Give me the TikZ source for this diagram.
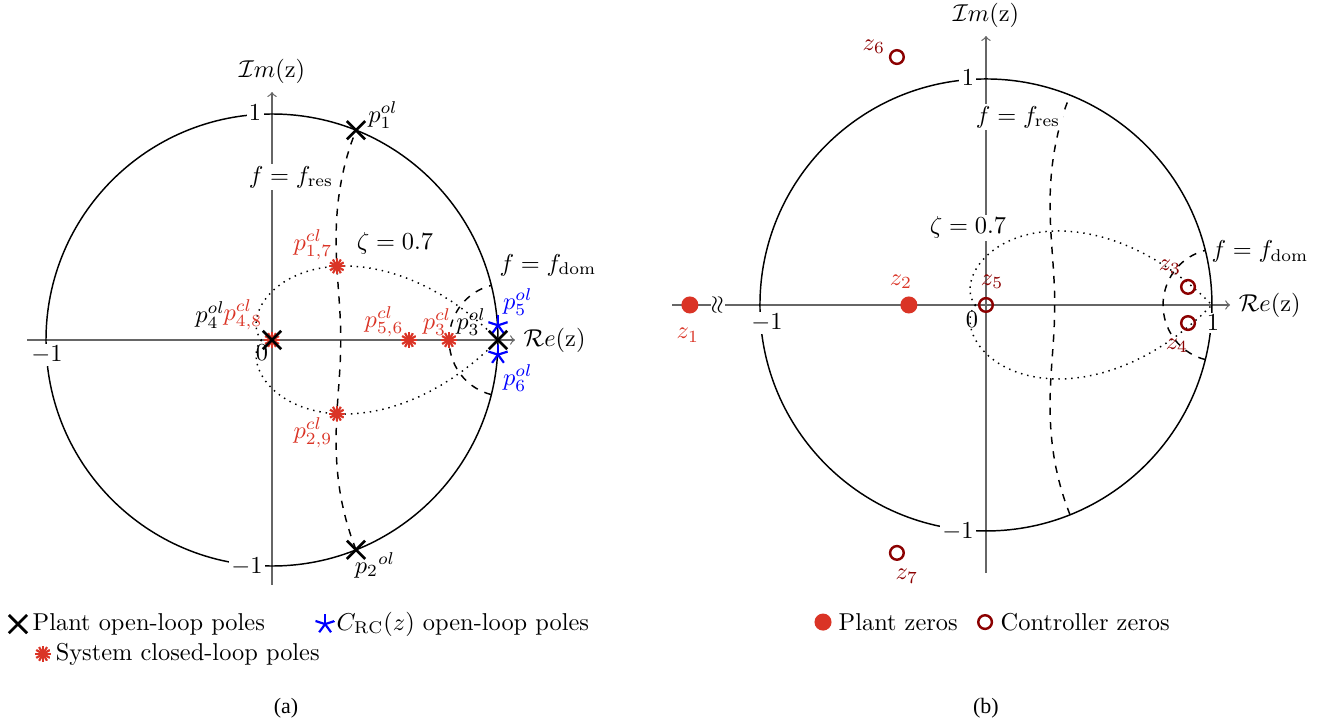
\documentclass[tikz,border=0pt]{standalone}
\usepackage{fontspec}
\newfontfamily\capfont{Liberation Serif}
\usetikzlibrary{shapes.misc}
\definecolor{mred}{RGB}{218,52,38}
\definecolor{mdarkred}{RGB}{139,0,0}

\begin{document}
\begin{tikzpicture}[x=3.257cm, y=3.257cm, line width=0.6pt,
  axis/.style={black!60, line width=0.5pt},
  olpole/.style={cross out, draw=black, line width=1.1pt, inner sep=0pt, minimum size=6.4pt},
  clpole/.style={circle, inner sep=0pt, minimum size=6.6pt, path picture={
      \foreach \a in {0,30,...,150}
        \draw[mred, line width=0.9pt] ([shift={(\a:3.3pt)}]path picture bounding box.center)
          -- ([shift={(\a+180:3.3pt)}]path picture bounding box.center);}},
  rcpole/.style={circle, inner sep=0pt, minimum size=8.4pt, path picture={
      \foreach \a in {90,162,234,306,18}
        \draw[blue, line width=0.9pt] (path picture bounding box.center) -- ++(\a:4.2pt);}},
  plantzero/.style={circle, fill=mred, inner sep=0pt, minimum size=7pt},
  ctrlzero/.style={circle, draw=mdarkred, line width=1pt, inner sep=0pt, minimum size=5.6pt},
  lab/.style={fill=white, inner sep=1pt},
  legtext/.style={anchor=west, inner sep=0pt},
  caption/.style={font=\capfont\fontsize{9}{11}\selectfont}]
  \useasboundingbox (-1.2035,-1.699) rectangle (4.690,1.5044);

  % (a) axes
  \draw[axis, ->] (-1.084,0) -- (1.075,0) node[right, black] (rea) {$\mathcal{R}e(\mathrm{z})$};
  \draw[axis, ->] (0,-1.084) -- (0,1.097) node[above, black] (ima) {$\mathcal{I}m(\mathrm{z})$};
  % unit circle
  \draw[semithick] (0,0) circle (1);
  % constant frequency curves f_res and f_dom
  \draw[dashed, domain=-90:90, samples=60, variable=\a]
    plot ({exp(-1.19*cos(\a))*cos(68.18*sin(\a))}, {exp(-1.19*cos(\a))*sin(68.18*sin(\a))});
  \draw[dashed, domain=-90:90, samples=40, variable=\a]
    plot ({exp(-0.244*cos(\a))*cos(13.98*sin(\a))}, {exp(-0.244*cos(\a))*sin(13.98*sin(\a))});
  % damping curve zeta = 0.7
  \draw[dotted, domain=-180:180, samples=121, variable=\p] plot (\p:{exp(-0.9802*abs(\p)*pi/180)});
  % axis numbers
  \node[lab] (a1y) at (-0.075,1.004) {$1$};
  \node[lab] (am1y) at (-0.111,-1.004) {$-1$};
  \node[lab] (am1x) at (-0.996,-0.066) {$-1$};
  \node (a0) at (-0.044,-0.058) {$0$};
  \node[lab] (afres) at (0.084,0.721) {$f = f_{\mathrm{res}}$};
  \node (azeta) at (0.544,0.429) {$\zeta = 0.7$};
  \node (afdom) at (1.221,0.332) {$f = f_{\mathrm{dom}}$};
  % closed-loop poles
  \node[clpole] (p17) at (0.287,0.326) {};
  \node[clpole] (p29) at (0.287,-0.326) {};
  \node[clpole] (p48) at (0,0) {};
  \node[clpole] (p56) at (0.606,0) {};
  \node[clpole] (p3cl) at (0.783,0) {};
  % open-loop poles
  \node[rcpole] (p5) at (1,0.065) {};
  \node[rcpole] (p6) at (1,-0.065) {};
  \node[olpole] (p1) at (68.18:1) {};
  \node[olpole] (p2) at (-68.18:1) {};
  \node[olpole] (p4) at (0,0) {};
  \node[olpole] (p3) at (1,0) {};
  % pole labels
  \node (p1lab) at (0.491,0.996) {$p_1^{ol}$};
  \node (p2lab) at (0.456,-0.996) {$p_2{}^{ol}$};
  \node[mred] (p17lab) at (0.181,0.420) {$p_{1,7}^{cl}$};
  \node[mred] (p29lab) at (0.181,-0.412) {$p_{2,9}^{cl}$};
  \node (p4lab) at (-0.274,0.111) {$p_4^{ol}$};
  \node[mred] (p48lab) at (-0.128,0.111) {$p_{4,8}^{cl}$};
  \node[mred] (p56lab) at (0.496,0.080) {$p_{5,6}^{cl}$};
  \node[mred] (p3cllab) at (0.730,0.080) {$p_3^{cl}$};
  \node (p3lab) at (0.881,0.080) {$p_3^{ol}$};
  \node[blue] (p5lab) at (1.088,0.168) {$p_5^{ol}$};
  \node[blue] (p6lab) at (1.088,-0.168) {$p_6^{ol}$};
  % legend (a)
  \node[olpole] (lgol) at (-1.124,-1.257) {};
  \node[legtext] (lgoltext) at (-1.062,-1.257) {Plant open-loop poles};
  \node[rcpole] (lgrc) at (0.235,-1.257) {};
  \node[legtext] (lgrctext) at (0.283,-1.257) {$C_{\mathrm{RC}}(z)$ open-loop poles};
  \node[clpole] (lgcl) at (-1.013,-1.389) {};
  \node[legtext] (lgcltext) at (-0.960,-1.389) {System closed-loop poles};
  \node[caption] (capa) at (0.062,-1.628) {(a)};

  % (b) zeros
  \begin{scope}[shift={(3.159,0.155)}]
    % axes with break
    \draw[axis, ->] (-1.389,0) -- (1.080,0) node[right, black] (reb) {$\mathcal{R}e(\mathrm{z})$};
    \draw[axis, ->] (0,-1.186) -- (0,1.190) node[above, black] (imb) {$\mathcal{I}m(\mathrm{z})$};
    \node[fill=white, inner sep=0.5pt] (brk) at (-1.186,0) {\rotatebox{90}{$\approx$}};
    % unit circle
    \draw[semithick] (0,0) circle (1);
    % constant frequency curves
    \draw[dashed, domain=-90:90, samples=60, variable=\a]
      plot ({exp(-1.19*cos(\a))*cos(68.18*sin(\a))}, {exp(-1.19*cos(\a))*sin(68.18*sin(\a))});
    \draw[dashed, domain=-90:90, samples=40, variable=\a]
      plot ({exp(-0.244*cos(\a))*cos(13.98*sin(\a))}, {exp(-0.244*cos(\a))*sin(13.98*sin(\a))});
    % damping curve
    \draw[dotted, domain=-180:180, samples=121, variable=\p] plot (\p:{exp(-0.9802*abs(\p)*pi/180)});
    % axis numbers
    \node[lab] (b1y) at (-0.080,1.004) {$1$};
    \node[lab] (bm1y) at (-0.124,-1.004) {$-1$};
    \node[lab] (bm1x) at (-0.969,-0.080) {$-1$};
    \node[lab] (b1x) at (1.004,-0.080) {$1$};
    \node (b0) at (-0.062,-0.066) {$0$};
    \node[lab] (bfres) at (0.142,0.832) {$f = f_{\mathrm{res}}$};
    \node[lab] (bzeta) at (-0.080,0.341) {$\zeta = 0.7$};
    \node (bfdom) at (1.212,0.235) {$f = f_{\mathrm{dom}}$};
    % plant zeros
    \node[plantzero] (z1) at (-1.310,0) {};
    \node[plantzero] (z2) at (-0.341,0) {};
    % controller zeros
    \node[ctrlzero] (z5) at (0,0) {};
    \node[ctrlzero] (z3) at (0.894,0.080) {};
    \node[ctrlzero] (z4) at (0.894,-0.080) {};
    \node[ctrlzero] (z6) at (-0.394,1.097) {};
    \node[ctrlzero] (z7) at (-0.394,-1.097) {};
    % zero labels
    \node[mred] (z1lab) at (-1.319,-0.133) {$z_1$};
    \node[mred] (z2lab) at (-0.376,0.102) {$z_2$};
    \node[mdarkred] (z5lab) at (0.027,0.102) {$z_5$};
    \node[mdarkred] (z3lab) at (0.814,0.168) {$z_3$};
    \node[mdarkred] (z4lab) at (0.845,-0.181) {$z_4$};
    \node[mdarkred] (z6lab) at (-0.496,1.142) {$z_6$};
    \node[mdarkred] (z7lab) at (-0.350,-1.199) {$z_7$};
    % legend (b)
    \node[plantzero] (lgpz) at (-0.721,-1.403) {};
    \node[legtext] (lgpztext) at (-0.655,-1.403) {Plant zeros};
    \node[ctrlzero] (lgcz) at (-0.004,-1.403) {};
    \node[legtext] (lgcztext) at (0.062,-1.403) {Controller zeros};
    \node[caption] (capb) at (0,-1.783) {(b)};
  \end{scope}
\end{tikzpicture}
\end{document}
